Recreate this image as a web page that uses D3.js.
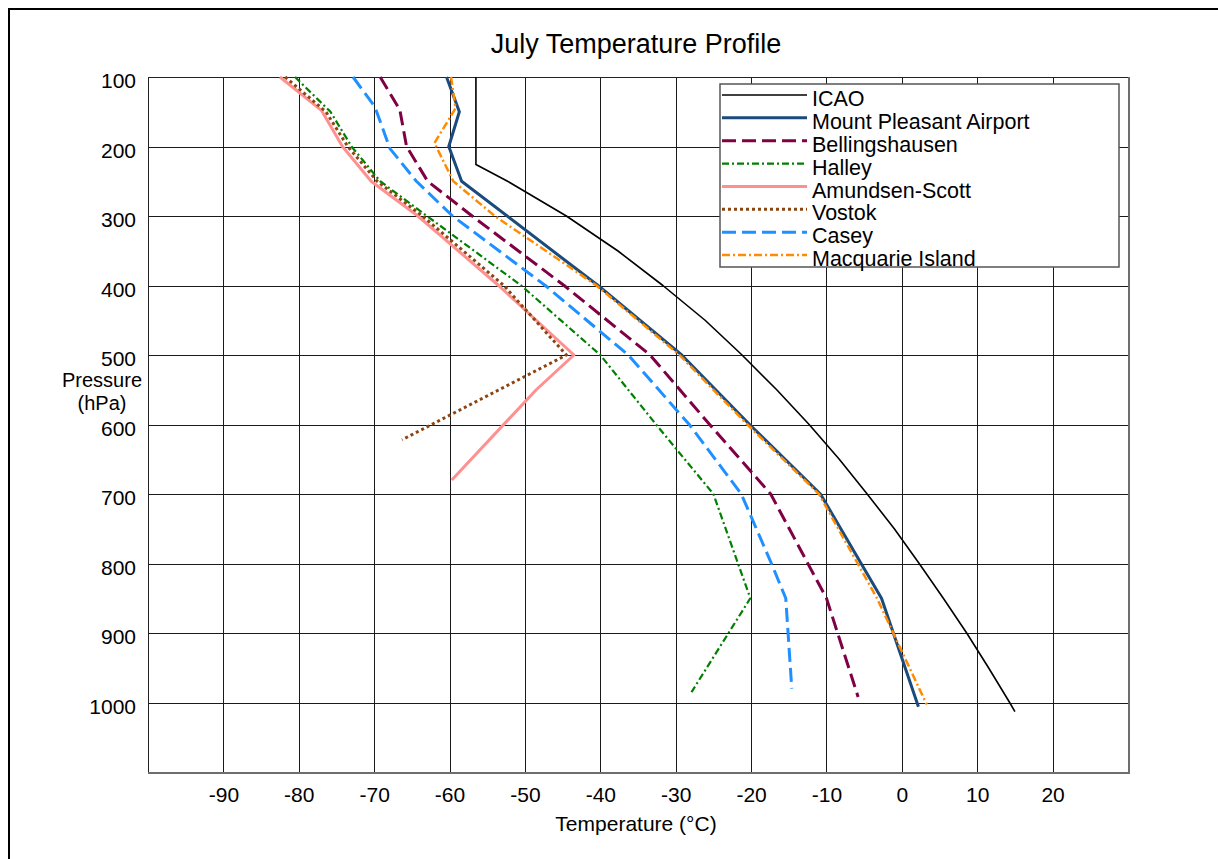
<!DOCTYPE html>
<html><head><meta charset="utf-8">
<script src="https://cdn.jsdelivr.net/npm/d3@7"></script>
<style>
html,body{margin:0;padding:0;background:#fff;}
svg{display:block;font-family:"Liberation Sans",Arial,sans-serif;}
</style></head>
<body><svg id="chart" width="1218" height="859"></svg>
<script>
// ---- data (pressure hPa, temperature °C) ----
const seriesNames = ["ICAO","Mount Pleasant Airport","Bellingshausen","Halley","Amundsen-Scott","Vostok","Casey","Macquarie Island"];

const icaoP = [100,150,200,226,250,300,350,400,450,500,550,600,650,700,750,800,850,900,950,1000,1013];
const icaoT = [-56.5,-56.5,-56.5,-56.5,-52.3,-44.5,-37.7,-31.7,-26.1,-21.2,-16.6,-12.3,-8.3,-4.6,-1.0,2.3,5.5,8.6,11.5,14.3,15.0];

const mountPleasantP = [100,150,200,250,400,500,600,700,850,1006];
const mountPleasantT = [-60.4,-58.7,-60.1,-58.4,-40.3,-29.2,-20.2,-10.8,-2.7,2.2];

const bellingshausenP = [100,147,200,250,300,400,500,600,700,850,992];
const bellingshausenT = [-69.2,-66.6,-65.7,-62.9,-57.0,-44.8,-33.4,-25.5,-17.4,-10.0,-5.8];

const halleyP = [100,150,200,250,300,400,500,600,700,850,985];
const halleyT = [-80.5,-75.8,-73.0,-69.2,-63.0,-50.5,-40.0,-32.6,-25.0,-20.1,-27.9];

const amundsenP = [100,148,200,250,300,400,500,550,680];
const amundsenT = [-82.5,-77.0,-74.2,-70.4,-64.2,-53.5,-43.5,-48.5,-59.7];

const vostokP = [100,150,200,250,300,400,500,622];
const vostokT = [-81.8,-76.4,-73.5,-69.6,-63.6,-52.8,-44.5,-66.3];

const caseyP = [100,143,203,250,300,400,500,600,700,800,850,980];
const caseyT = [-72.8,-69.9,-67.9,-64.4,-59.6,-47.3,-36.3,-28.2,-21.3,-17.3,-15.4,-14.6];

const macquarieP = [100,145,195,250,300,400,500,600,700,850,1003];
const macquarieT = [-59.8,-59.2,-62.0,-59.5,-54.0,-40.5,-29.5,-20.5,-11.0,-3.3,3.3];

const xTickValues = [-90,-80,-70,-60,-50,-40,-30,-20,-10,0,10,20];
const yTickValues = [100,200,300,400,500,600,700,800,900,1000];

// ---- styles ----
const styles = [
  {color:"#000000", width:1.6, dash:null},
  {color:"#1b4a7d", width:3,   dash:null},
  {color:"#800046", width:3,   dash:"14,6"},
  {color:"#008000", width:2.2, dash:"7,3,2,3"},
  {color:"#ff9090", width:3,   dash:null},
  {color:"#8b4513", width:3,   dash:"3,3"},
  {color:"#1e90ff", width:3,   dash:"14,6"},
  {color:"#ff8c00", width:2.5, dash:"8,3,2,3"}
];
const seriesP = [icaoP,mountPleasantP,bellingshausenP,halleyP,amundsenP,vostokP,caseyP,macquarieP];
const seriesT = [icaoT,mountPleasantT,bellingshausenT,halleyT,amundsenT,vostokT,caseyT,macquarieT];

const svg = d3.select("#chart");
const L = 148, T = 77, R = 1128, B = 772;
const x = d3.scaleLinear().domain([-100,30]).range([L,R]);
const y = d3.scaleLinear().domain([100,1100]).range([T,B]);
const fmt = d => String(d);

// outer frame
svg.append("rect").attr("x",9).attr("y",9).attr("width",1400).attr("height",1000)
  .attr("fill","#fff").attr("stroke","#000").attr("stroke-width",2);

// title
svg.append("text").attr("x",636).attr("y",53).attr("text-anchor","middle")
  .attr("font-size",27).attr("fill","#000").text("July Temperature Profile");

// grid
const gx = svg.append("g").attr("transform",`translate(0,${B})`)
  .call(d3.axisBottom(x).tickValues(xTickValues).tickSize(-(B-T)).tickFormat(""));
gx.select(".domain").remove();
gx.selectAll("line").attr("stroke","#1a1a1a").attr("stroke-width",1).attr("shape-rendering","crispEdges");

const gy = svg.append("g").attr("transform",`translate(${L},0)`)
  .call(d3.axisLeft(y).tickValues(yTickValues).tickSize(-(R-L)).tickFormat(""));
gy.select(".domain").remove();
gy.selectAll("line").attr("stroke","#1a1a1a").attr("stroke-width",1).attr("shape-rendering","crispEdges");

// plot border
svg.append("rect").attr("x",L).attr("y",T).attr("width",R-L).attr("height",B-T)
  .attr("fill","none").attr("stroke","#222").attr("stroke-width",1).attr("shape-rendering","crispEdges");
svg.append("line").attr("x1",R+1).attr("x2",R+1).attr("y1",T).attr("y2",B+1)
  .attr("stroke","#6e6e6e").attr("stroke-width",2);
svg.append("line").attr("x1",L).attr("x2",R+2).attr("y1",B+1).attr("y2",B+1)
  .attr("stroke","#6e6e6e").attr("stroke-width",2);

// axis labels
const ax = svg.append("g").attr("transform",`translate(0,${B})`)
  .call(d3.axisBottom(x).tickValues(xTickValues).tickSize(0).tickPadding(15).tickFormat(fmt));
ax.select(".domain").remove();
ax.selectAll("text").attr("font-size",21).attr("font-family","Liberation Sans, Arial, sans-serif").attr("fill","#000");

const ay = svg.append("g").attr("transform",`translate(${L},4)`)
  .call(d3.axisLeft(y).tickValues(yTickValues).tickSize(0).tickPadding(12).tickFormat(fmt));
ay.select(".domain").remove();
ay.selectAll("text").attr("font-size",21).attr("font-family","Liberation Sans, Arial, sans-serif").attr("fill","#000");

svg.append("text").attr("x",636).attr("y",831).attr("text-anchor","middle")
  .attr("font-size",21).text("Temperature (°C)");
svg.append("text").attr("x",102).attr("y",387).attr("text-anchor","middle")
  .attr("font-size",20).text("Pressure");
svg.append("text").attr("x",102).attr("y",410).attr("text-anchor","middle")
  .attr("font-size",20).text("(hPa)");

// lines
const line = d3.line().x(d=>x(d.t)).y(d=>y(d.p));
const plotG = svg.append("g");
seriesNames.forEach((name,i)=>{
  const pts = seriesP[i].map((p,j)=>({p:p,t:seriesT[i][j]}));
  const st = styles[i];
  plotG.append("path").datum(pts).attr("d",line)
    .attr("fill","none").attr("stroke",st.color).attr("stroke-width",st.width)
    .attr("stroke-dasharray",st.dash).attr("stroke-linejoin","round");
});

// legend
const lg = svg.append("g");
lg.append("rect").attr("x",720).attr("y",84).attr("width",399).attr("height",183)
  .attr("fill","#fff").attr("stroke","#555").attr("stroke-width",1.5);
seriesNames.forEach((name,i)=>{
  const cy = 98.3 + i*22.86;
  const st = styles[i];
  lg.append("line").attr("x1",722).attr("x2",807).attr("y1",cy-3.3).attr("y2",cy-3.3)
    .attr("stroke",st.color).attr("stroke-width",st.width).attr("stroke-dasharray",st.dash);
  lg.append("text").attr("x",812).attr("y",cy+7.8).attr("font-size",21.5).attr("fill","#000").text(name);
});
</script></body></html>
